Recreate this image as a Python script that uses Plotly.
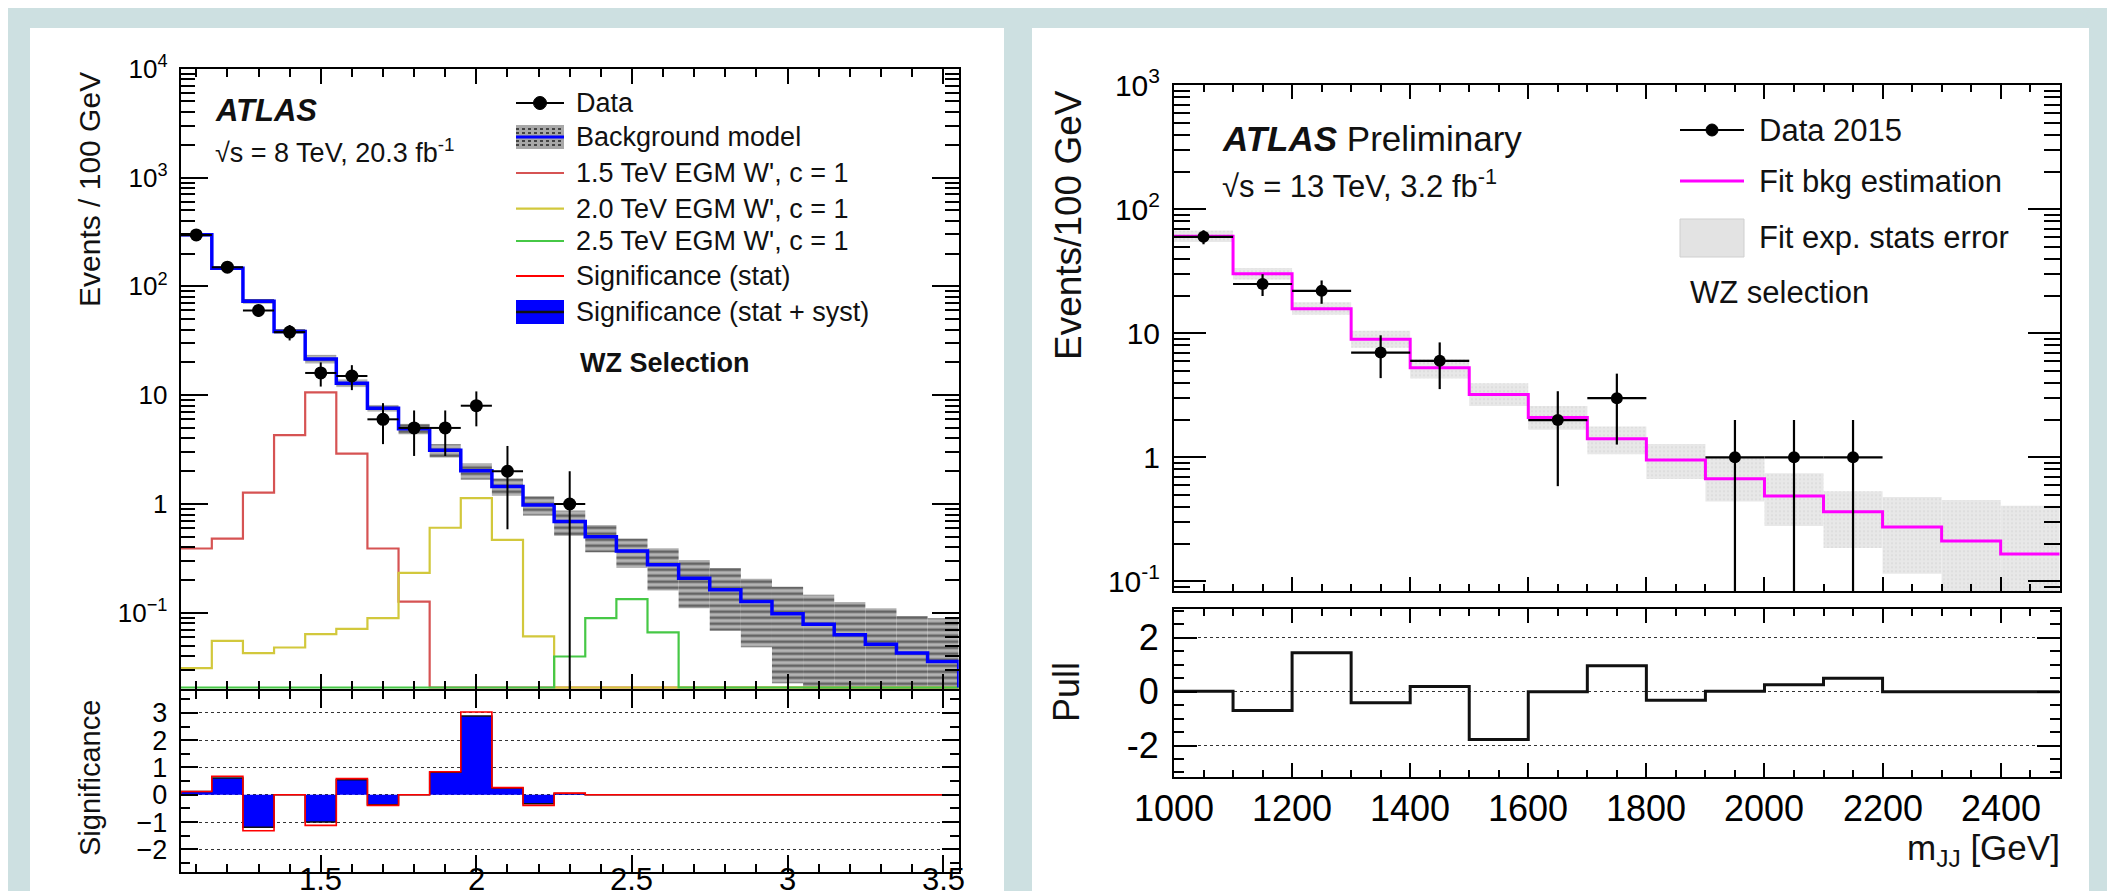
import plotly.graph_objects as go

W, H = 2115, 891
FONT = "Liberation Sans, Arial, Helvetica, sans-serif"

# ---------------- Left chart (8 TeV) ----------------
left_bin_centers = [1.1, 1.2, 1.3, 1.4, 1.5, 1.6, 1.7, 1.8, 1.9, 2.0, 2.1, 2.2, 2.3,
                    2.4, 2.5, 2.6, 2.7, 2.8, 2.9, 3.0, 3.1, 3.2, 3.3, 3.4, 3.5]
left_bin_width = 0.1
left_data = [297, 150, 60, 38, 16, 15, 6, 5, 5, 8, 2, 0, 1,
             0, 0, 0, 0, 0, 0, 0, 0, 0, 0, 0, 0]
left_bkg = [298, 147, 72.8, 38.5, 21.5, 12.9, 7.6, 4.91, 3.11, 2.02, 1.45, 0.98, 0.69,
            0.50, 0.37, 0.276, 0.208, 0.163, 0.127, 0.098, 0.0787, 0.0628, 0.0515, 0.0427, 0.0357]
left_bkg_rel_unc = [0.04, 0.04, 0.05, 0.05, 0.09, 0.08, 0.07, 0.11, 0.14, 0.17, 0.18, 0.20, 0.26,
                    0.28, 0.30, 0.42, 0.47, 0.58, 0.62, 0.77, 0.86, 1.0, 1.14, 1.19, 1.5]
left_wprime_1500 = [0.39, 0.48, 1.27, 4.3, 10.6, 2.9, 0.39, 0.127, 0, 0, 0, 0, 0,
                    0, 0, 0, 0, 0, 0, 0, 0, 0, 0, 0, 0]
left_wprime_2000 = [0.031, 0.0553, 0.0427, 0.048, 0.0637, 0.0713, 0.0893, 0.233, 0.605, 1.13, 0.469, 0.0607, 0,
                    0, 0, 0, 0, 0, 0, 0, 0, 0, 0, 0, 0]
left_wprime_2500 = [0, 0, 0, 0, 0, 0, 0, 0, 0, 0, 0, 0, 0.0397,
                    0.0893, 0.1336, 0.066, 0, 0, 0, 0, 0, 0, 0, 0, 0]
left_signif_stat = [0.12, 0.68, -1.32, 0, -1.12, 0.59, -0.39, 0, 0.84, 3.03, 0.26, -0.39, 0.06,
                    0, 0, 0, 0, 0, 0, 0, 0, 0, 0, 0, 0]
left_signif_statsyst = [0.12, 0.61, -1.19, 0, -1.0, 0.55, -0.37, 0, 0.82, 2.88, 0.25, -0.33, 0.05,
                        0, 0, 0, 0, 0, 0, 0, 0, 0, 0, 0, 0]
left_y_tickvals = [0.1, 1, 10, 100, 1000, 10000]
left_y_ticktext = ["10<sup>\u22121</sup>", "1", "10", "10<sup>2</sup>", "10<sup>3</sup>", "10<sup>4</sup>"]
left_x_tickvals = [1.5, 2, 2.5, 3, 3.5]
left_x_ticktext = ["1.5", "2", "2.5", "3", "3.5"]
left_sig_tickvals = [-2, -1, 0, 1, 2, 3]
left_sig_ticktext = ["\u22122", "\u22121", "0", "1", "2", "3"]
left_legend_labels = ["Data", "Background model", "1.5 TeV EGM W', c = 1", "2.0 TeV EGM W', c = 1",
                      "2.5 TeV EGM W', c = 1", "Significance (stat)", "Significance (stat + syst)"]

# ---------------- Right chart (13 TeV) ----------------
right_bin_centers = [1050, 1150, 1250, 1350, 1450, 1550, 1650, 1750, 1850, 1950,
                     2050, 2150, 2250, 2350, 2450]
right_bin_width = 100
right_data = [60, 25, 22, 7, 6, 0, 2, 3, 0, 1, 1, 1, 0, 0, 0]
right_fit_bkg = [60.7, 30.2, 15.8, 8.95, 5.27, 3.21, 2.10, 1.41, 0.95, 0.671,
                 0.489, 0.365, 0.275, 0.212, 0.166]
right_fit_err_hi = [67.4, 33.6, 17.8, 10.5, 6.18, 3.96, 2.60, 1.77, 1.28, 1.0,
                    0.746, 0.532, 0.48, 0.454, 0.408]
right_fit_err_lo = [54.6, 27.2, 14.1, 7.64, 4.32, 2.60, 1.67, 1.06, 0.67, 0.44,
                    0.28, 0.186, 0.115, 0.07, 0.05]
right_pull = [0.02, -0.70, 1.45, -0.41, 0.19, -1.78, 0.0, 0.96, -0.32, 0.02,
              0.26, 0.50, 0, 0, 0]
right_y_tickvals = [0.1, 1, 10, 100, 1000]
right_y_ticktext = ["10<sup>-1</sup>", "1", "10", "10<sup>2</sup>", "10<sup>3</sup>"]
right_x_tickvals = [1000, 1200, 1400, 1600, 1800, 2000, 2200, 2400]
right_x_ticktext = ["1000", "1200", "1400", "1600", "1800", "2000", "2200", "2400"]
right_pull_tickvals = [-2, 0, 2]
right_pull_ticktext = ["-2", "0", "2"]
right_legend_labels = ["Data 2015", "Fit bkg estimation", "Fit exp. stats error"]

# ---------------- helpers ----------------
def px(x):
    return x / W


def py(y):
    return 1 - y / H


def step_xy(centers, width, vals, floor, zero_to_floor=True, start_floor=False, end_floor=True):
    edges = [c - width / 2 for c in centers] + [centers[-1] + width / 2]
    v = [(val if val > 0 else floor) if zero_to_floor else val for val in vals]
    xs = edges[:-1] + [edges[-1]]
    ys = v + [v[-1]]
    if start_floor:
        xs = [edges[0]] + xs
        ys = [floor] + ys
    if end_floor:
        xs = xs + [edges[-1]]
        ys = ys + [floor]
    return xs, ys


def log_minor(lo_exp, hi_exp):
    return [k * 10 ** d for d in range(lo_exp, hi_exp) for k in range(2, 10)]


L_FLOOR = 10 ** -1.686
R_FLOOR = 10 ** -1.07

fig = go.Figure()

# ---- left top panel ----
bk_lo = [max(b * (1 - r), 1e-3) for b, r in zip(left_bkg, left_bkg_rel_unc)]
bk_hi = [b * (1 + r) for b, r in zip(left_bkg, left_bkg_rel_unc)]
fig.add_trace(go.Bar(
    x=left_bin_centers, base=bk_lo, y=[h - l for h, l in zip(bk_hi, bk_lo)],
    width=left_bin_width, xaxis="x", yaxis="y",
    marker=dict(color="#a8a8a8", line=dict(width=0),
                pattern=dict(shape="-", fgcolor="#141414", bgcolor="#b4b4b4", size=6, solidity=0.45)),
    showlegend=False, hoverinfo="skip"))

for vals, col in [(left_wprime_1500, "#d65353"), (left_wprime_2000, "#d2c83c"), (left_wprime_2500, "#46c846")]:
    xs, ys = step_xy(left_bin_centers, left_bin_width, vals, L_FLOOR)
    fig.add_trace(go.Scatter(x=xs, y=ys, mode="lines", line=dict(color=col, width=2.2, shape="hv"),
                             xaxis="x", yaxis="y", showlegend=False, hoverinfo="skip"))

xs, ys = step_xy(left_bin_centers, left_bin_width, left_bkg, L_FLOOR)
fig.add_trace(go.Scatter(x=xs, y=ys, mode="lines", line=dict(color="#0000ff", width=3.5, shape="hv"),
                         xaxis="x", yaxis="y", showlegend=False, hoverinfo="skip"))

ld_y = [v if v > 0 else None for v in left_data]
ld_e = [v ** 0.5 for v in left_data]
fig.add_trace(go.Scatter(
    x=left_bin_centers, y=ld_y, mode="markers", xaxis="x", yaxis="y",
    marker=dict(color="black", size=13),
    error_y=dict(type="data", symmetric=False, array=ld_e, arrayminus=ld_e, thickness=2, width=0, color="black"),
    error_x=dict(type="constant", value=left_bin_width / 2, thickness=2, width=0, color="black"),
    showlegend=False, hoverinfo="skip"))

# ---- left bottom panel ----
xs, ys = step_xy(left_bin_centers, left_bin_width, left_signif_statsyst, 0, zero_to_floor=False,
                 start_floor=True)
fig.add_trace(go.Scatter(x=xs, y=ys, mode="lines", fill="tozeroy", fillcolor="#0000ff",
                         line=dict(color="#111111", width=1.5, shape="hv"),
                         xaxis="x2", yaxis="y2", showlegend=False, hoverinfo="skip"))
xs, ys = step_xy(left_bin_centers, left_bin_width, left_signif_stat, 0, zero_to_floor=False,
                 start_floor=True)
fig.add_trace(go.Scatter(x=xs, y=ys, mode="lines", line=dict(color="#ff0000", width=1.6, shape="hv"),
                         xaxis="x2", yaxis="y2", showlegend=False, hoverinfo="skip"))

# ---- right top panel ----
fig.add_trace(go.Bar(
    x=right_bin_centers, base=right_fit_err_lo,
    y=[h - l for h, l in zip(right_fit_err_hi, right_fit_err_lo)],
    width=right_bin_width, xaxis="x3", yaxis="y3",
    marker=dict(color="#e3e3e3", line=dict(width=0),
                pattern=dict(shape=".", fgcolor="#cdcdcd", bgcolor="#e8e8e8", size=4, solidity=0.2)),
    showlegend=False, hoverinfo="skip"))
xs, ys = step_xy(right_bin_centers, right_bin_width, right_fit_bkg, R_FLOOR, end_floor=False)
fig.add_trace(go.Scatter(x=xs, y=ys, mode="lines", line=dict(color="#ff00ff", width=3, shape="hv"),
                         xaxis="x3", yaxis="y3", showlegend=False, hoverinfo="skip"))
rd_y = [v if v > 0 else None for v in right_data]
rd_e = [v ** 0.5 for v in right_data]
fig.add_trace(go.Scatter(
    x=right_bin_centers, y=rd_y, mode="markers", xaxis="x3", yaxis="y3",
    marker=dict(color="black", size=12),
    error_y=dict(type="data", symmetric=False, array=rd_e, arrayminus=rd_e, thickness=2.2, width=0, color="black"),
    error_x=dict(type="constant", value=right_bin_width / 2, thickness=2.2, width=0, color="black"),
    showlegend=False, hoverinfo="skip"))

# ---- right bottom panel ----
xs, ys = step_xy(right_bin_centers, right_bin_width, right_pull, 0, zero_to_floor=False, end_floor=False)
fig.add_trace(go.Scatter(x=xs, y=ys, mode="lines", line=dict(color="#111111", width=3, shape="hv"),
                         xaxis="x4", yaxis="y4", showlegend=False, hoverinfo="skip"))

# ---------------- axes ----------------
def ax_common(**kw):
    d = dict(showline=True, linecolor="black", linewidth=2, mirror="ticks", ticks="inside",
             tickcolor="black", tickwidth=2, showgrid=False, zeroline=False, automargin=False,
             tickfont=dict(family=FONT, size=26, color="black"), tickmode="array")
    d.update(kw)
    return d


left_x_minor = [1.1, 1.2, 1.3, 1.4, 1.6, 1.7, 1.8, 1.9, 2.1, 2.2, 2.3, 2.4, 2.6, 2.7, 2.8, 2.9,
                3.1, 3.2, 3.3, 3.4]
right_x_minor = [1050, 1100, 1150, 1250, 1300, 1350, 1450, 1500, 1550, 1650, 1700, 1750, 1850, 1900,
                 1950, 2050, 2100, 2150, 2250, 2300, 2350, 2450, 2500]

L_X = [px(172.7), px(950.7)]
R_X = [px(1166), px(2051.7)]

fig.update_layout(
    xaxis=ax_common(domain=L_X, range=[1.05, 3.55], anchor="y", tickvals=left_x_tickvals,
                    showticklabels=False, ticklen=15,
                    minor=dict(tickmode="array", tickvals=left_x_minor, ticks="inside", ticklen=8,
                               tickwidth=1.5, tickcolor="black")),
    yaxis=ax_common(domain=[py(681), py(60.7)], type="log", range=[-1.7, 4], anchor="x",
                    tickvals=left_y_tickvals, ticktext=left_y_ticktext, ticklen=27, ticklabelstandoff=6,
                    minor=dict(tickmode="array", tickvals=log_minor(-2, 4), ticks="inside", ticklen=14,
                               tickwidth=1.5, tickcolor="black")),
    xaxis2=ax_common(domain=L_X, range=[1.05, 3.55], anchor="y2", tickvals=left_x_tickvals,
                     showticklabels=False, ticklen=17,
                     minor=dict(tickmode="array", tickvals=left_x_minor, ticks="inside", ticklen=8,
                                tickwidth=1.5, tickcolor="black")),
    yaxis2=ax_common(domain=[py(864.3), py(683)], range=[-2.84, 3.8], anchor="x2",
                     tickvals=left_sig_tickvals, ticktext=left_sig_ticktext, ticklen=17, ticklabelstandoff=6,
                     tickfont=dict(family=FONT, size=27, color="black"),
                     showgrid=True, gridcolor="#333333", griddash="dot", gridwidth=1.2,
                     minor=dict(tickmode="array", tickvals=[-2.5, -1.5, -0.5, 0.5, 1.5, 2.5, 3.5],
                                ticks="inside", ticklen=9, tickwidth=1.5, tickcolor="black")),
    xaxis3=ax_common(domain=R_X, range=[1000, 2500], anchor="y3", tickvals=right_x_tickvals,
                     showticklabels=False, ticklen=14,
                     minor=dict(tickmode="array", tickvals=right_x_minor, ticks="inside", ticklen=7,
                                tickwidth=1.5, tickcolor="black")),
    yaxis3=ax_common(domain=[py(583.3), py(77.3)], type="log", range=[-1.08, 3], anchor="x3",
                     tickvals=right_y_tickvals, ticktext=right_y_ticktext, ticklen=32, ticklabelstandoff=6,
                     tickfont=dict(family=FONT, size=30, color="black"),
                     minor=dict(tickmode="array", tickvals=log_minor(-2, 3), ticks="inside", ticklen=16,
                                tickwidth=1.5, tickcolor="black")),
    xaxis4=ax_common(domain=R_X, range=[1000, 2500], anchor="y4", tickvals=right_x_tickvals,
                     showticklabels=False, ticklen=14,
                     minor=dict(tickmode="array", tickvals=right_x_minor, ticks="inside", ticklen=7,
                                tickwidth=1.5, tickcolor="black")),
    yaxis4=ax_common(domain=[py(769), py(600.5)], range=[-3.17, 3.09], anchor="x4",
                     tickvals=right_pull_tickvals, ticktext=right_pull_ticktext, ticklen=23,
                     ticklabelstandoff=6, tickfont=dict(family=FONT, size=36, color="black"),
                     showgrid=True, gridcolor="#333333", griddash="dot", gridwidth=1.2,
                     minor=dict(tickmode="array",
                                tickvals=[-3, -2.5, -1.5, -1, -0.5, 0.5, 1, 1.5, 2.5, 3],
                                ticks="inside", ticklen=10, tickwidth=1.5, tickcolor="black")),
)

# ---------------- panels / legends / texts ----------------
shapes = [
    dict(type="rect", xref="paper", yref="paper", x0=px(22), x1=px(996), y0=py(895), y1=py(20),
         fillcolor="white", line=dict(width=0), layer="below"),
    dict(type="rect", xref="paper", yref="paper", x0=px(1024), x1=px(2081), y0=py(895), y1=py(20),
         fillcolor="white", line=dict(width=0), layer="below"),
]
ann = []


def text(x, y, s, size, anchor="left", angle=0, **kw):
    ann.append(dict(xref="paper", yref="paper", x=px(x), y=py(y), text=s, showarrow=False,
                    xanchor=anchor, yanchor="middle", textangle=angle,
                    font=dict(family=FONT, size=size, color="#111111"), **kw))


def hline(x0, x1, y, color, width, dash="solid"):
    shapes.append(dict(type="line", xref="paper", yref="paper", x0=px(x0), x1=px(x1), y0=py(y), y1=py(y),
                       line=dict(color=color, width=width, dash=dash)))


def rect(x0, y0, x1, y1, fill, lc="rgba(0,0,0,0)", lw=0):
    shapes.append(dict(type="rect", xref="paper", yref="paper", x0=px(x0), x1=px(x1), y0=py(y1), y1=py(y0),
                       fillcolor=fill, line=dict(color=lc, width=lw)))


def circle(cx, cy, r):
    shapes.append(dict(type="circle", xref="paper", yref="paper", x0=px(cx - r), x1=px(cx + r),
                       y0=py(cy + r), y1=py(cy - r), fillcolor="black", line=dict(color="black", width=1)))


# x-axis tick labels of the two lower panels (placed on the data x scale)
for v, t in zip(left_x_tickvals, left_x_ticktext):
    ann.append(dict(xref="x2", yref="paper", x=v, y=py(871), text=t, showarrow=False,
                    xanchor="center", yanchor="middle", font=dict(family=FONT, size=31, color="black")))
for v, t in zip(right_x_tickvals, right_x_ticktext):
    ann.append(dict(xref="x4", yref="paper", x=v, y=py(800), text=t, showarrow=False,
                    xanchor="center", yanchor="middle", font=dict(family=FONT, size=36, color="black")))

# left legend
LX0, LX1, LTX = 508, 556, 566
lrows = [95, 129, 165, 200.7, 233, 268, 304]
hline(LX0, LX1, lrows[0], "black", 2)
circle((LX0 + LX1) / 2, lrows[0], 6.5)
rect(LX0, lrows[1] - 12, LX1, lrows[1] + 12, "#a8a8a8")
for dy in (-8, -4, 4, 8):
    hline(LX0, LX1, lrows[1] + dy, "#222222", 1.3, "dot")
hline(LX0, LX1, lrows[1], "#0000ff", 3)
hline(LX0, LX1, lrows[2], "#d65353", 2.2)
hline(LX0, LX1, lrows[3], "#d2c83c", 2.2)
hline(LX0, LX1, lrows[4], "#46c846", 2.2)
hline(LX0, LX1, lrows[5], "#ff0000", 2)
rect(LX0, lrows[6] - 12, LX1, lrows[6] + 12, "#0000ff")
hline(LX0, LX1, lrows[6], "#111111", 2.5)
for lab, yy in zip(left_legend_labels, lrows):
    text(LTX, yy, lab, 27)
text(570, 355, "<b>WZ Selection</b>", 27)
text(205, 102, "<b><i>ATLAS</i></b>", 31)
text(205, 143, "\u221as = 8 TeV, 20.3 fb<sup>-1</sup>", 27)
text(82, 182, "Events / 100 GeV", 30, anchor="center", angle=-90)
text(82, 770, "Significance", 29, anchor="center", angle=-90)

# right legend
RX0, RX1, RTX = 1672, 1736, 1749
rrows = [122, 173, 230]
hline(RX0, RX1, rrows[0], "black", 2.2)
circle((RX0 + RX1) / 2, rrows[0], 6)
hline(RX0, RX1, rrows[1], "#ff00ff", 3)
rect(RX0, rrows[2] - 19, RX1, rrows[2] + 19, "#e3e3e3", "#cfcfcf", 1)
for lab, yy in zip(right_legend_labels, rrows):
    text(RTX, yy, lab, 31)
text(1680, 284, "WZ selection", 31)
text(1212, 130, "<b><i>ATLAS</i></b> Preliminary", 35)
text(1212, 176, "\u221as = 13 TeV, 3.2 fb<sup>-1</sup>", 31)
text(1060, 217, "Events/100 GeV", 37, anchor="center", angle=-90)
text(1058, 684, "Pull", 36, anchor="center", angle=-90)
text(2054, 842, "m<sub>JJ</sub> [GeV]", 35, anchor="right")

fig.update_layout(
    width=W, height=H, autosize=False,
    margin=dict(l=0, r=0, t=0, b=0, autoexpand=False),
    paper_bgcolor="#cde0e1", plot_bgcolor="white",
    shapes=shapes, annotations=ann, showlegend=False,
    font=dict(family=FONT, color="#111111"),
)

fig.write_html("out.html")
